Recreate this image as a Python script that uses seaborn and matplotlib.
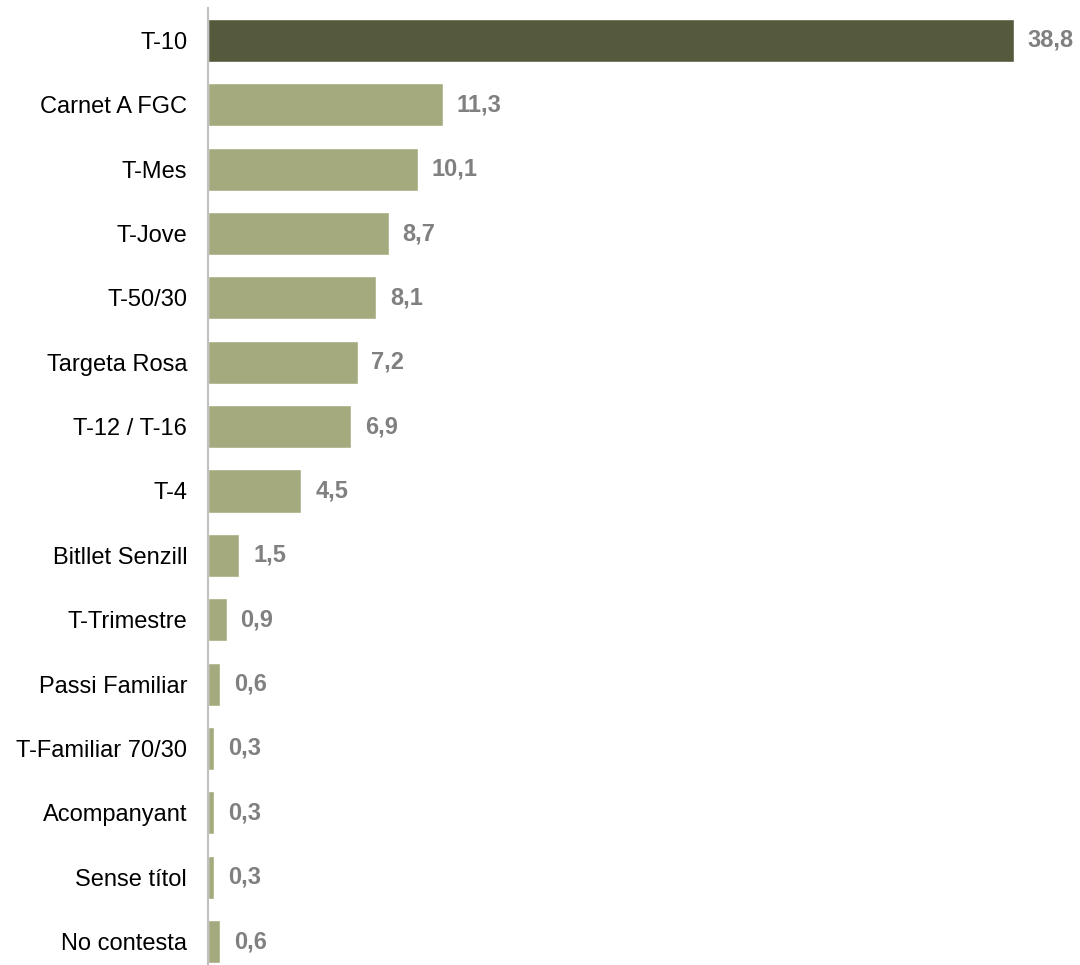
import matplotlib
matplotlib.use("Agg")
import matplotlib.pyplot as plt
import seaborn as sns
import pandas as pd

categories = ["T-10", "Carnet A FGC", "T-Mes", "T-Jove", "T-50/30", "Targeta Rosa",
              "T-12 / T-16", "T-4", "Bitllet Senzill", "T-Trimestre", "Passi Familiar",
              "T-Familiar 70/30", "Acompanyant", "Sense títol", "No contesta"]
values = [38.8, 11.3, 10.1, 8.7, 8.1, 7.2, 6.9, 4.5, 1.5, 0.9, 0.6, 0.3, 0.3, 0.3, 0.6]
labels = ["38,8", "11,3", "10,1", "8,7", "8,1", "7,2", "6,9", "4,5", "1,5", "0,9",
          "0,6", "0,3", "0,3", "0,3", "0,6"]

dark = "#555A3C"
light = "#A4AA7E"
palette = [dark] + [light] * (len(categories) - 1)

sns.set_theme(style="white")
plt.rcParams['font.family'] = ['Liberation Sans', 'DejaVu Sans']

df = pd.DataFrame({"cat": categories, "val": values})

fig = plt.figure(figsize=(10.8, 9.65), dpi=100)
W, H = 1080, 965
top_px = 8.3
ax = fig.add_axes([208 / W, 0, (1040 - 208) / W, (H - top_px) / H])

sns.barplot(data=df, x="val", y="cat", hue="cat", palette=palette, legend=False,
            width=0.67, ax=ax, orient="h", saturation=1)

step = 64.36
ax.set_ylim((H - top_px) / step - 0.5, -0.5)
ax.set_xlim(0, (1040 - 208) / 20.77)

for i, (v, lab) in enumerate(zip(values, labels)):
    ax.annotate(lab, xy=(v, i), xytext=(10, 0), textcoords="offset points",
                ha="left", va="center", fontsize=17, fontweight="bold", color="#808080")

ax.set_xlabel("")
ax.set_ylabel("")
ax.set_xticks([])
ax.tick_params(axis="y", length=0, pad=15, labelsize=17, labelcolor="black")
for s in ["top", "right", "bottom"]:
    ax.spines[s].set_visible(False)
ax.spines["left"].set_color("#BFBFBF")
ax.spines["left"].set_linewidth(1.5)

fig.savefig("out.png", dpi=100)
